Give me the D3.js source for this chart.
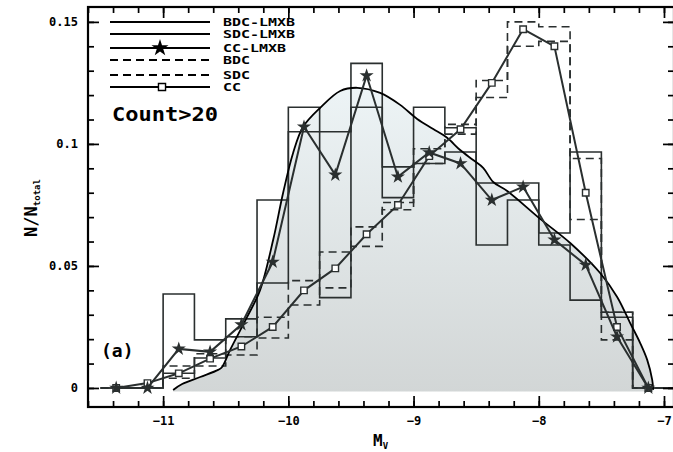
<!DOCTYPE html>
<html>
<head>
<meta charset="utf-8">
<script src="https://cdn.jsdelivr.net/npm/d3@7"></script>
<style>
  body { margin: 0; background: #fff; }
  svg { display: block; }
  text { font-family: "DejaVu Sans Mono", monospace; font-weight: bold; fill: #000; }
</style>
</head>
<body>
<svg id="chart" width="673" height="452"></svg>
<script>
// ---- data -------------------------------------------------------------
// magnitude bin centres (bin width 0.25 mag)
const magBins = [-11.375, -11.125, -10.875, -10.625, -10.375, -10.125, -9.875, -9.625, -9.375,
                 -9.125, -8.875, -8.625, -8.375, -8.125, -7.875, -7.625, -7.375, -7.125];
const binWidth = 0.25;

// step histograms (solid)
const bdcLmxb = [0, 0, 0.0385, 0.0197, 0.0283, 0.077, 0.115, 0.105, 0.133,
                 0.0906, 0.115, 0.1066, 0.084, 0.084, 0.0635, 0.0967, 0.031, 0];
const sdcLmxb = [0, 0, 0.006, 0.0123, 0.021, 0.043, 0.105, 0.037, 0.115,
                 0.078, 0.092, 0.0967, 0.0586, 0.077, 0.0586, 0.036, 0.029, 0];
// line with stars
const ccLmxb  = [0, 0, 0.016, 0.0148, 0.026, 0.0516, 0.107, 0.0873, 0.128,
                 0.0865, 0.0965, 0.092, 0.077, 0.0824, 0.0607, 0.0504, 0.021, 0];
// step histograms (dashed)
const bdc     = [0, 0, 0.009, 0.014, 0.021, 0.029, 0.044, 0.0557, 0.066,
                 0.076, 0.098, 0.108, 0.126, 0.150, 0.148, 0.094, 0.031, 0];
const sdc     = [0, 0, 0.004, 0.009, 0.0135, 0.0205, 0.034, 0.041, 0.058,
                 0.073, 0.092, 0.104, 0.119, 0.140, 0.142, 0.069, 0.0197, 0];
// line with open squares
const cc      = [0, 0.002, 0.006, 0.012, 0.017, 0.025, 0.040, 0.049, 0.063,
                 0.075, 0.095, 0.106, 0.125, 0.147, 0.140, 0.080, 0.025, 0];

// smooth model distribution (shaded)
const modelMag  = [-10.92, -10.848, -10.704, -10.561, -10.529, -10.465, -10.329, -10.225, -10.121,
                   -10.042, -9.962, -9.882, -9.746, -9.586, -9.45, -9.267, -9.107, -8.971, -8.843,
                   -8.732, -8.628, -8.524, -8.444, -8.364, -8.252, -7.989, -7.749, -7.51, -7.374,
                   -7.27, -7.19, -7.134, -7.094, -7.086];
const modelFrac = [-0.0008, 0.0016, 0.0045, 0.0074, 0.0086, 0.0156, 0.0291, 0.0402, 0.0607,
                   0.0799, 0.0963, 0.107, 0.1148, 0.1217, 0.123, 0.1209, 0.116, 0.1102, 0.1061,
                   0.1025, 0.0975, 0.0934, 0.0902, 0.0844, 0.0807, 0.0693, 0.0594, 0.0471, 0.0373,
                   0.0266, 0.0184, 0.0115, 0.0033, -0.0008];

const xMajorTicks = [-11, -10, -9, -8, -7];
const xTickLabels = ["\u221211", "\u221210", "\u22129", "\u22128", "\u22127"];
const yMajorTicks = [0, 0.05, 0.1, 0.15];
const yTickLabels = ["0", "0.05", "0.1", "0.15"];
const legendLabels = ["BDC-LMXB", "SDC-LMXB", "CC-LMXB", "BDC", "SDC", "CC"];

// ---- layout -----------------------------------------------------------
const P = { left: 88, right: 674, top: 7, bottom: 407 };
const INK = "#2a2f2f";

const x = d3.scaleLinear().domain([-11.6, -6.92]).range([P.left, P.right]);
const y = d3.scaleLinear().domain([-0.0078, 0.1561]).range([P.bottom, P.top]);

const svg = d3.select("#chart");
const defs = svg.append("defs");
defs.append("clipPath").attr("id", "plotClip")
  .append("rect").attr("x", P.left).attr("y", P.top)
  .attr("width", P.right - P.left).attr("height", P.bottom - P.top);

const grad = defs.append("linearGradient").attr("id", "shade")
  .attr("gradientUnits", "userSpaceOnUse")
  .attr("x1", 0).attr("x2", 0).attr("y1", y(0.124)).attr("y2", y(-0.002));
grad.append("stop").attr("offset", 0).attr("stop-color", "#edf4f6");
grad.append("stop").attr("offset", 1).attr("stop-color", "#d2d6d6");

const plot = svg.append("g").attr("clip-path", "url(#plotClip)");

// model distribution: shaded area + outline
const modelPts = modelMag.map((m, i) => [m, modelFrac[i]]);
const smooth = d3.curveCatmullRom.alpha(0.5);
plot.append("path")
  .attr("d", d3.area().x(d => x(d[0])).y0(y(-0.0014)).y1(d => y(d[1])).curve(smooth)(modelPts))
  .attr("fill", "url(#shade)");

// step histogram outline
function stepPath(vals) {
  const pts = [[magBins[0] - binWidth / 2, 0]];
  vals.forEach((v, i) => {
    pts.push([magBins[i] - binWidth / 2, v]);
    pts.push([magBins[i] + binWidth / 2, v]);
  });
  pts.push([magBins[magBins.length - 1] + binWidth / 2, 0]);
  pts.push([x.domain()[1], 0]);
  return d3.line().x(d => x(d[0])).y(d => y(d[1]))(pts);
}
[[bdc, "8,5"], [sdc, "8,5"], [bdcLmxb, null], [sdcLmxb, null]].forEach(([vals, dash]) => {
  plot.append("path").attr("d", stepPath(vals))
    .attr("fill", "none").attr("stroke", INK).attr("stroke-width", 1.6)
    .attr("stroke-dasharray", dash);
});

plot.append("path")
  .attr("d", d3.line().x(d => x(d[0])).y(d => y(d[1])).curve(smooth)(modelPts))
  .attr("fill", "none").attr("stroke", "#000").attr("stroke-width", 1.8);

// marker lines
const lineGen = d3.line().x(d => x(d[0])).y(d => y(d[1]));
const ccPts = magBins.map((m, i) => [m, cc[i]]);
const ccLmxbPts = magBins.map((m, i) => [m, ccLmxb[i]]);
const star = d3.symbol().type(d3.symbolStar).size(62);
const square = d3.symbol().type(d3.symbolSquare).size(42);

plot.append("path").attr("d", lineGen(ccPts))
  .attr("fill", "none").attr("stroke", INK).attr("stroke-width", 2);
plot.selectAll(".sq").data(ccPts).enter().append("path")
  .attr("transform", d => `translate(${x(d[0])},${y(d[1])})`)
  .attr("d", square).attr("fill", "#fff").attr("stroke", INK).attr("stroke-width", 1.4);

plot.append("path").attr("d", lineGen(ccLmxbPts))
  .attr("fill", "none").attr("stroke", INK).attr("stroke-width", 2);
plot.selectAll(".st").data(ccLmxbPts).enter().append("path")
  .attr("transform", d => `translate(${x(d[0])},${y(d[1])})`)
  .attr("d", star).attr("fill", INK);

// ---- axes -------------------------------------------------------------
function styleAxis(g) {
  g.select(".domain").remove();
  g.selectAll(".tick line").attr("stroke", "#000").attr("stroke-width", 1.7);
  g.selectAll(".tick text").attr("font-size", 12).attr("fill", "#000");
}
const xMinor = d3.range(-11.6, -6.9, 0.2).map(v => +v.toFixed(1));
const yMinor = d3.range(0, 0.156, 0.01).map(v => +v.toFixed(2));

svg.append("g").attr("transform", `translate(0,${P.bottom})`)
  .call(d3.axisBottom(x).tickValues(xMajorTicks).tickSizeInner(-11).tickSizeOuter(0).tickPadding(9)
    .tickFormat((d, i) => xTickLabels[i])).call(styleAxis);
svg.append("g").attr("transform", `translate(0,${P.bottom})`)
  .call(d3.axisBottom(x).tickValues(xMinor).tickSizeInner(-6).tickSizeOuter(0).tickFormat(""))
  .call(styleAxis);
svg.append("g").attr("transform", `translate(0,${P.top})`)
  .call(d3.axisTop(x).tickValues(xMajorTicks).tickSizeInner(-11).tickSizeOuter(0).tickFormat(""))
  .call(styleAxis);
svg.append("g").attr("transform", `translate(0,${P.top})`)
  .call(d3.axisTop(x).tickValues(xMinor).tickSizeInner(-6).tickSizeOuter(0).tickFormat(""))
  .call(styleAxis);

svg.append("g").attr("transform", `translate(${P.left},0)`)
  .call(d3.axisLeft(y).tickValues(yMajorTicks).tickSizeInner(-11).tickSizeOuter(0).tickPadding(10)
    .tickFormat((d, i) => yTickLabels[i])).call(styleAxis);
svg.append("g").attr("transform", `translate(${P.left},0)`)
  .call(d3.axisLeft(y).tickValues(yMinor).tickSizeInner(-6).tickSizeOuter(0).tickFormat(""))
  .call(styleAxis);
svg.append("g").attr("transform", `translate(${P.right},0)`)
  .call(d3.axisRight(y).tickValues(yMajorTicks).tickSizeInner(-11).tickSizeOuter(0).tickFormat(""))
  .call(styleAxis);
svg.append("g").attr("transform", `translate(${P.right},0)`)
  .call(d3.axisRight(y).tickValues(yMinor).tickSizeInner(-6).tickSizeOuter(0).tickFormat(""))
  .call(styleAxis);

svg.append("rect").attr("x", P.left).attr("y", P.top)
  .attr("width", P.right - P.left).attr("height", P.bottom - P.top)
  .attr("fill", "none").attr("stroke", "#000").attr("stroke-width", 2.2);

// axis titles
const yTitle = svg.append("text").attr("transform", "translate(37,208) rotate(-90)")
  .attr("text-anchor", "middle");
yTitle.append("tspan").attr("font-size", 17).text("N/N");
yTitle.append("tspan").attr("font-size", 9).attr("dy", 3).text("total");

const xTitle = svg.append("text").attr("x", 373).attr("y", 446);
xTitle.append("tspan").attr("font-size", 16).text("M");
xTitle.append("tspan").attr("font-size", 9).attr("dy", 3).text("V");

// annotations
svg.append("text").attr("x", 101).attr("y", 357).attr("font-size", 18).text("(a)");
svg.append("text").attr("x", 112).attr("y", 121).attr("font-size", 20)
  .attr("textLength", 106).attr("lengthAdjust", "spacingAndGlyphs").text("Count>20");

// ---- legend -----------------------------------------------------------
const legendRows = [22, 34, 48, 60, 75, 87];
const legendDash = [null, null, null, "8,5", "8,5", null];
legendLabels.forEach((lab, i) => {
  const ly = legendRows[i];
  svg.append("line").attr("x1", 110).attr("x2", 210).attr("y1", ly).attr("y2", ly)
    .attr("stroke", "#000").attr("stroke-width", 2).attr("stroke-dasharray", legendDash[i]);
  if (i === 2) {
    svg.append("path").attr("transform", `translate(160,${ly})`)
      .attr("d", d3.symbol().type(d3.symbolStar).size(90)).attr("fill", "#000");
  }
  if (i === 5) {
    svg.append("path").attr("transform", `translate(162,${ly})`)
      .attr("d", d3.symbol().type(d3.symbolSquare).size(50))
      .attr("fill", "#fff").attr("stroke", "#000").attr("stroke-width", 1.4);
  }
  svg.append("text").attr("x", 223).attr("y", ly + 4).attr("font-size", 11)
    .attr("textLength", lab.length * 9).attr("lengthAdjust", "spacingAndGlyphs").text(lab);
});
</script>
</body>
</html>
